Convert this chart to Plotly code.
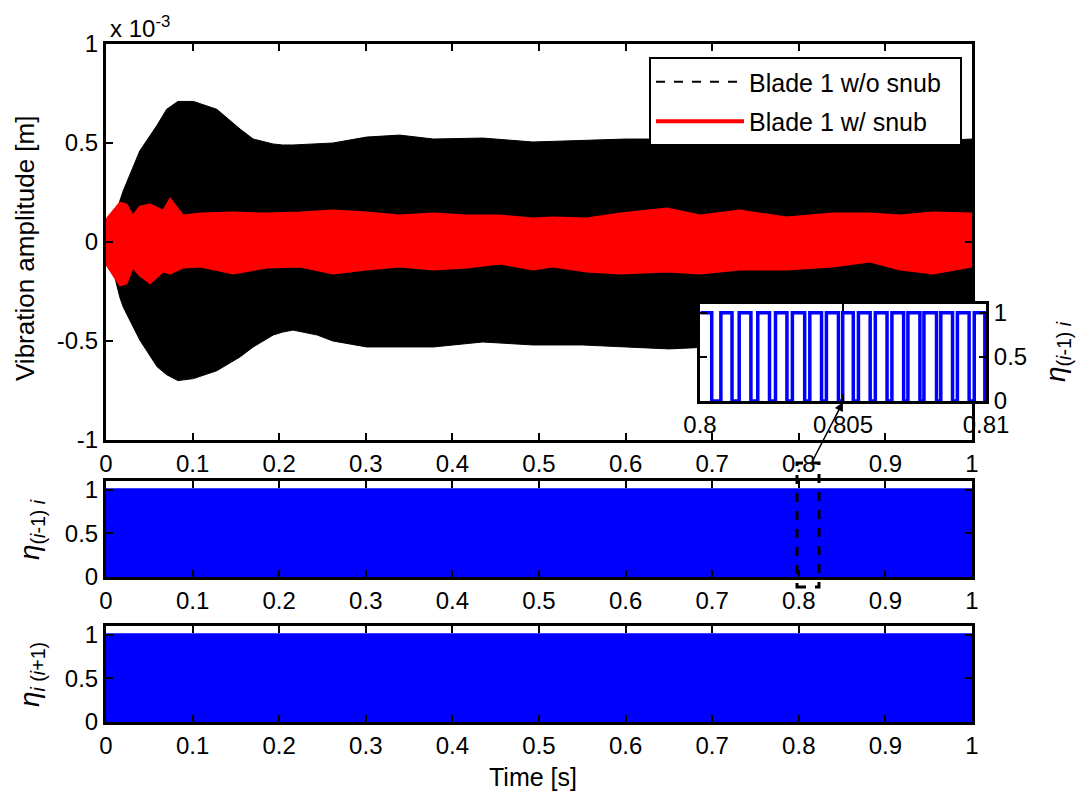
import plotly.graph_objects as go

# page body has an 8px margin: the figure is placed at (8, 8) in the window
OX, OY = 8, 8
FW, FH = 1068, 785
FONT = "Liberation Sans"

# ---- main plot data (amplitude in units of 1e-3 m) ----
t_black = [0, 0.016, 0.020, 0.039, 0.059, 0.070, 0.083, 0.101, 0.128, 0.155, 0.170,
           0.193, 0.204, 0.216, 0.244, 0.262, 0.301, 0.339, 0.378, 0.435, 0.493,
           0.55, 0.60, 0.65, 0.70, 0.75, 0.80, 0.85, 0.90, 0.95, 1.0]
black_upper = [0, 0.21, 0.26, 0.46, 0.59, 0.67, 0.71, 0.71, 0.67, 0.57, 0.52,
               0.495, 0.49, 0.49, 0.495, 0.50, 0.53, 0.54, 0.52, 0.525, 0.505,
               0.515, 0.52, 0.52, 0.51, 0.50, 0.50, 0.50, 0.50, 0.51, 0.52]
black_lower = [0, -0.28, -0.33, -0.495, -0.63, -0.67, -0.70, -0.69, -0.65, -0.58, -0.53,
               -0.47, -0.455, -0.445, -0.47, -0.50, -0.53, -0.53, -0.53, -0.505, -0.52,
               -0.52, -0.53, -0.54, -0.53, -0.52, -0.52, -0.52, -0.53, -0.53, -0.52]

t_red = [0, 0.001, 0.016, 0.024, 0.031, 0.039, 0.051, 0.066, 0.074, 0.089, 0.109,
         0.147, 0.186, 0.224, 0.262, 0.301, 0.339, 0.378, 0.417, 0.455, 0.493,
         0.516, 0.555, 0.594, 0.648, 0.686, 0.732, 0.786, 0.839, 0.882, 0.917,
         0.955, 1.0]
red_upper = [0.08, 0.12, 0.20, 0.19, 0.135, 0.18, 0.19, 0.16, 0.22, 0.135, 0.145,
             0.15, 0.145, 0.15, 0.16, 0.15, 0.135, 0.145, 0.135, 0.135, 0.12,
             0.125, 0.12, 0.145, 0.17, 0.135, 0.16, 0.125, 0.145, 0.145, 0.135,
             0.15, 0.145]
red_lower = [-0.08, -0.12, -0.22, -0.21, -0.13, -0.17, -0.21, -0.15, -0.16, -0.13, -0.125,
             -0.16, -0.13, -0.125, -0.16, -0.14, -0.125, -0.14, -0.13, -0.11, -0.14,
             -0.125, -0.15, -0.16, -0.15, -0.16, -0.14, -0.14, -0.125, -0.10, -0.14,
             -0.16, -0.125]

# ---- contact indicators (switch between 0 and 1, shown as their full band) ----
t_eta = [0, 1]
eta_low = [0, 0]
eta_high = [1, 1]

# ---- inset: contact signal between 0.8 and 0.81 s (rise/fall times in s) ----
inset_rise = [0.80002, 0.80073, 0.80137, 0.80202, 0.80264, 0.80323, 0.80384, 0.80442,
              0.80499, 0.80554, 0.80613, 0.80671, 0.80727, 0.80783, 0.80842, 0.80900,
              0.80959]
inset_fall = [0.80041, 0.80112, 0.80178, 0.80243, 0.80304, 0.80366, 0.80425, 0.80484,
              0.80536, 0.80595, 0.80654, 0.80712, 0.80769, 0.80827, 0.80883, 0.80941,
              0.80996]

xticks_main = [0, 0.1, 0.2, 0.3, 0.4, 0.5, 0.6, 0.7, 0.8, 0.9, 1]
xticklabels_main = ["0", "0.1", "0.2", "0.3", "0.4", "0.5", "0.6", "0.7", "0.8", "0.9", "1"]
yticks_main = [-1, -0.5, 0, 0.5, 1]
yticklabels_main = ["-1", "-0.5", "0", "0.5", "1"]
yticks_eta = [0, 0.5, 1]
yticklabels_eta = ["0", "0.5", "1"]
xticks_inset = [0.8, 0.805, 0.81]
xticklabels_inset = ["0.8", "0.805", "0.81"]

fig = go.Figure()

# main plot fills
fig.add_trace(go.Scatter(x=t_black + t_black[::-1], y=black_upper + black_lower[::-1],
                         fill="toself", fillcolor="black", mode="lines",
                         line=dict(color="black", width=1), showlegend=False,
                         hoverinfo="skip", xaxis="x", yaxis="y"))
fig.add_trace(go.Scatter(x=t_red + t_red[::-1], y=red_upper + red_lower[::-1],
                         fill="toself", fillcolor="#ff0000", mode="lines",
                         line=dict(color="#ff0000", width=1.5), showlegend=False,
                         hoverinfo="skip", xaxis="x", yaxis="y"))
# legend entries
fig.add_trace(go.Scatter(x=[None], y=[None], mode="lines",
                         name="Blade 1 w/o snub\u00a0\u00a0",
                         line=dict(color="black", width=2, dash="dash"),
                         xaxis="x", yaxis="y", legendgroup="a"))
fig.add_trace(go.Scatter(x=[None], y=[None], mode="lines", name="Blade 1 w/ snub",
                         line=dict(color="#ff0000", width=4),
                         xaxis="x", yaxis="y", legendgroup="b"))

# eta subplots
for ax in ("2", "3"):
    fig.add_trace(go.Scatter(x=t_eta + t_eta[::-1], y=eta_high + eta_low[::-1],
                             fill="toself", fillcolor="#0000ff", mode="lines",
                             line=dict(color="#0000ff", width=3), showlegend=False,
                             hoverinfo="skip", xaxis="x" + ax, yaxis="y" + ax))

# inset (white background so it hides the main plot beneath it)
x0, x1 = xticks_inset[0], xticks_inset[-1]
fig.add_trace(go.Scatter(x=[x0 - 0.0002, x1 + 0.0002, x1 + 0.0002, x0 - 0.0002],
                         y=[-0.05, -0.05, 1.15, 1.15], fill="toself", fillcolor="white",
                         mode="none", showlegend=False, hoverinfo="skip",
                         xaxis="x4", yaxis="y4"))
sx, sy = [], []
for i, (r, f) in enumerate(zip(inset_rise, inset_fall)):
    sx += [r, r, f, f]
    sy += [0, 1, 1, 0]
    if i + 1 < len(inset_rise):
        sx.append(inset_rise[i + 1])
        sy.append(0)
sy[0] = 1
fig.add_trace(go.Scatter(x=sx, y=sy, mode="lines", line=dict(color="#0000ff", width=3.5),
                         showlegend=False, hoverinfo="skip", xaxis="x4", yaxis="y4"))


def px(x):
    return (x - OX) / FW


def py(y):
    return 1 - (y - OY) / FH


axis_common = dict(showline=True, linewidth=3, linecolor="black", mirror="ticks",
                   ticks="inside", ticklen=7, tickwidth=2, tickcolor="black",
                   showgrid=False, zeroline=False, automargin=False,
                   tickfont=dict(family=FONT, size=24, color="black"))

xd = [px(106), px(972)]
fig.update_layout(
    template="none",
    width=FW, height=FH, margin=dict(l=0, r=0, t=0, b=0, pad=0, autoexpand=False),
    paper_bgcolor="white", plot_bgcolor="white",
    font=dict(family=FONT, size=24, color="black"),
    xaxis=dict(domain=xd, range=[0, 1], tickvals=xticks_main, ticktext=xticklabels_main,
               anchor="y", **axis_common),
    yaxis=dict(domain=[py(440), py(44)], range=[-1, 1], tickvals=yticks_main,
               ticktext=yticklabels_main, anchor="x", **axis_common),
    xaxis2=dict(domain=xd, range=[0, 1], tickvals=xticks_main, ticktext=xticklabels_main,
                anchor="y2", **axis_common),
    yaxis2=dict(domain=[py(577), py(481)], range=[0, 1.1], tickvals=yticks_eta,
                ticktext=yticklabels_eta, anchor="x2", **axis_common),
    xaxis3=dict(domain=xd, range=[0, 1], tickvals=xticks_main, ticktext=xticklabels_main,
                anchor="y3", **axis_common),
    yaxis3=dict(domain=[py(722), py(626)], range=[0, 1.1], tickvals=yticks_eta,
                ticktext=yticklabels_eta, anchor="x3", **axis_common),
    xaxis4=dict(domain=[px(700), px(986)], range=[0.8, 0.81], tickvals=xticks_inset,
                ticktext=xticklabels_inset, anchor="y4", **axis_common),
    yaxis4=dict(domain=[py(401), py(304)], range=[0, 1.1], tickvals=yticks_eta,
                ticktext=yticklabels_eta, anchor="x4", side="right", **axis_common),
    legend=dict(x=px(962), y=py(57), xanchor="right", yanchor="top",
                bgcolor="white", bordercolor="black", borderwidth=2,
                font=dict(family=FONT, size=25, color="black"),
                itemwidth=88, tracegroupgap=4, traceorder="grouped"),
    showlegend=True,
)

ann = [
    dict(x=px(108), y=py(27), text="x 10<sup>-3</sup>", showarrow=False,
         xanchor="left", yanchor="middle", font=dict(size=24)),
    dict(x=px(25), y=py(249), text="Vibration amplitude [m]", showarrow=False,
         textangle=-90, font=dict(size=26)),
    dict(x=px(31), y=py(530), text="<i>η</i><sub>(<i>i</i>-1) <i>i</i></sub>",
         showarrow=False, textangle=-90, font=dict(size=28)),
    dict(x=px(31), y=py(675), text="<i>η</i><sub><i>i</i> (<i>i</i>+1)</sub>",
         showarrow=False, textangle=-90, font=dict(size=28)),
    dict(x=px(1057), y=py(352), text="<i>η</i><sub>(<i>i</i>-1) <i>i</i></sub>",
         showarrow=False, textangle=-90, font=dict(size=28)),
    dict(x=px(533), y=py(777), text="Time [s]", showarrow=False, font=dict(size=25)),
    dict(x=px(843), y=py(402), ax=-31, ay=60, axref="pixel", ayref="pixel",
         text="", showarrow=True, arrowhead=2,
         arrowsize=1.2, arrowwidth=1.5, arrowcolor="black"),
]
for a in ann:
    a.setdefault("xref", "paper")
    a.setdefault("yref", "paper")
    a.setdefault("xanchor", "center")
    a.setdefault("yanchor", "middle")
fig.update_layout(annotations=ann)

fig.add_shape(type="rect", xref="paper", yref="paper", x0=px(797), x1=px(819),
              y0=py(587), y1=py(463), line=dict(color="black", width=3, dash="dash"),
              layer="above")

fig.write_html("out.html")
